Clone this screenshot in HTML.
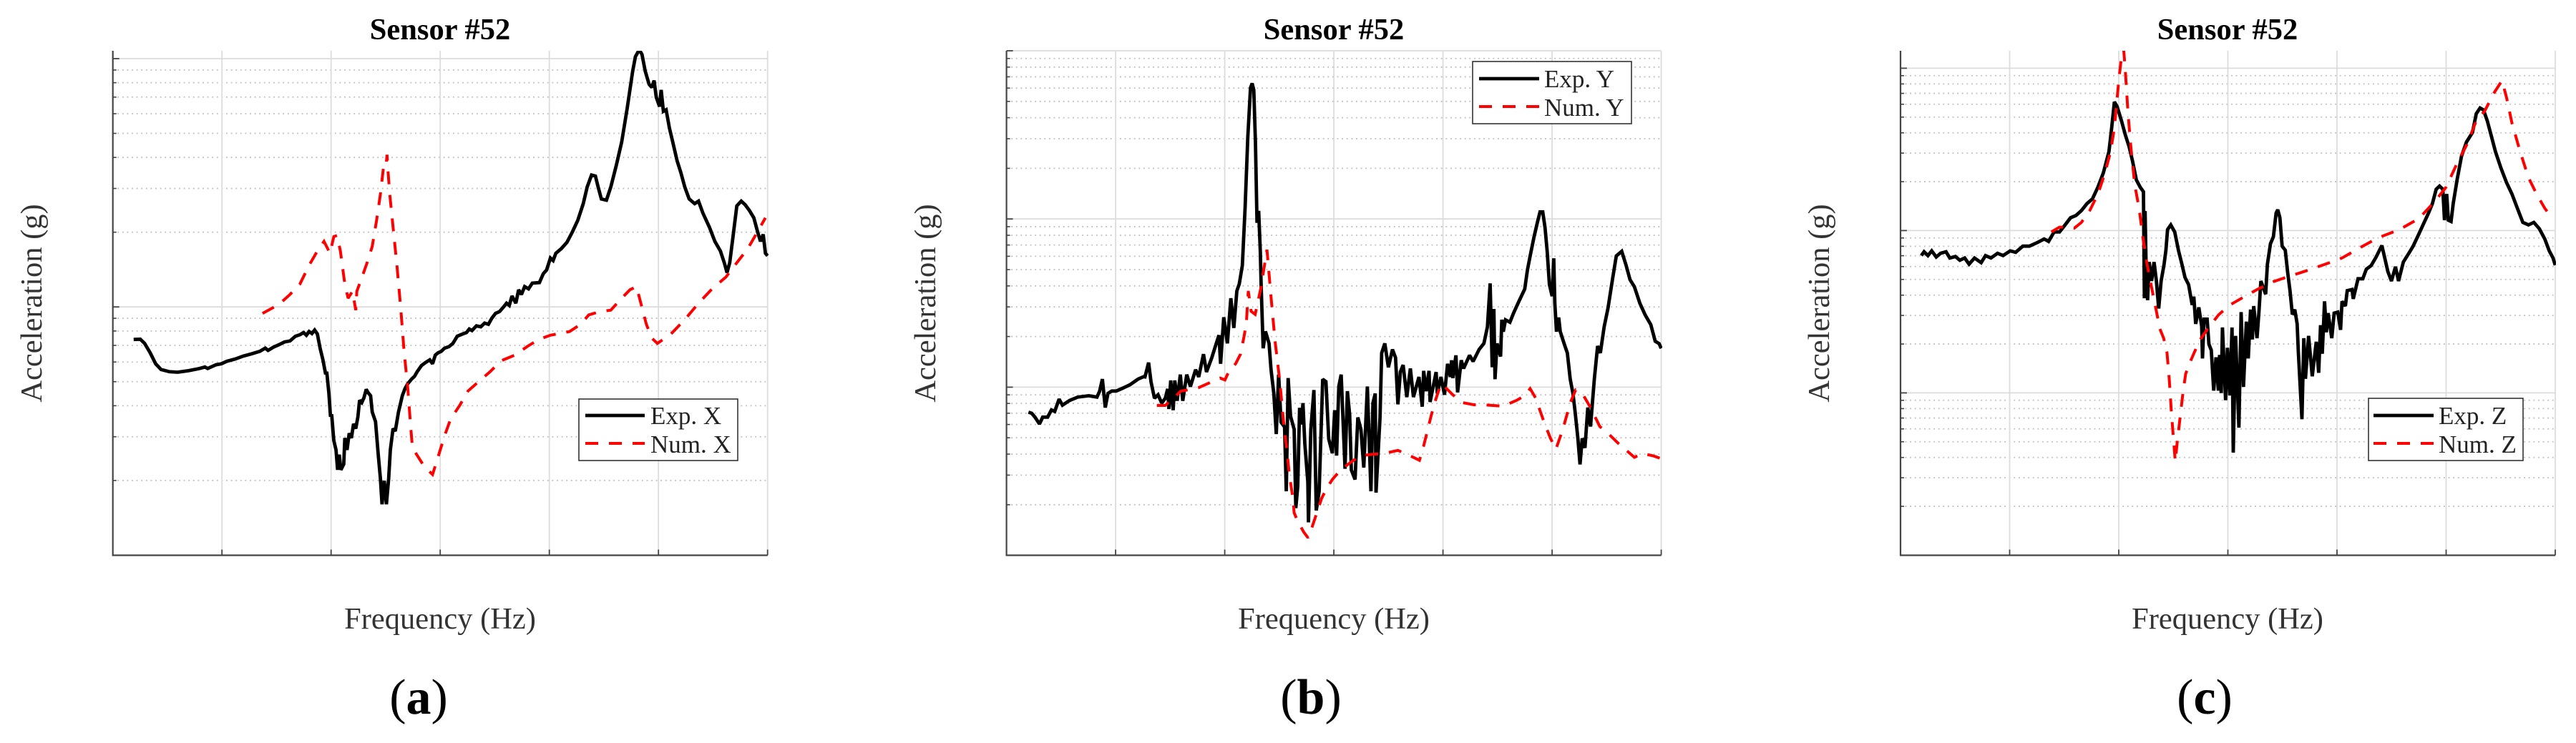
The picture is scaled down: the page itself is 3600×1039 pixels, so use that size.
<!DOCTYPE html>
<html lang="en">
<head>
<meta charset="utf-8">
<title>Sensor #52 frequency response</title>
<style>
html,body{margin:0;padding:0;background:#fff;}
svg{display:block;font-family:"Liberation Serif",serif;}
.title{font-size:42.5px;font-weight:bold;fill:#000;text-anchor:middle;}
.axis-label{font-size:42.5px;fill:#333;text-anchor:middle;}
.legend-text{font-size:35px;fill:#222;}
.caption{font-size:70px;fill:#000;text-anchor:middle;}
</style>
</head>
<body>
<svg id="figure" xmlns="http://www.w3.org/2000/svg" width="3600" height="1039" viewBox="0 0 3600 1039">
  <rect width="3600" height="1039" fill="#fff"/>
  <defs>
    <clipPath id="clip-a"><rect x="157" y="71" width="917" height="706"/></clipPath>
    <clipPath id="clip-b"><rect x="1406" y="71" width="917" height="706"/></clipPath>
    <clipPath id="clip-c"><rect x="2655" y="71" width="917" height="706"/></clipPath>
  </defs>
  <g id="panel-a"></g>
  <g id="panel-b"></g>
  <g id="panel-c"></g>

  <text class="title" x="615" y="55">Sensor #52</text>
  <text class="title" x="1864" y="55">Sensor #52</text>
  <text class="title" x="3113" y="55">Sensor #52</text>

  <text class="axis-label" x="615" y="879">Frequency (Hz)</text>
  <text class="axis-label" x="1864" y="879">Frequency (Hz)</text>
  <text class="axis-label" x="3113" y="879">Frequency (Hz)</text>

  <text class="axis-label" transform="translate(58 424) rotate(-90)">Acceleration (g)</text>
  <text class="axis-label" transform="translate(1307 424) rotate(-90)">Acceleration (g)</text>
  <text class="axis-label" transform="translate(2556 424) rotate(-90)">Acceleration (g)</text>

  <g>
    <rect x="809" y="558" width="222" height="86" fill="#fff" stroke="#333" stroke-width="1.6"/>
    <line x1="818" y1="581" x2="901" y2="581" stroke="#000" stroke-width="4.8"/>
    <line x1="818" y1="620" x2="901" y2="620" stroke="#f00" stroke-width="4" stroke-dasharray="18 15"/>
    <text class="legend-text" x="909" y="593">Exp. X</text>
    <text class="legend-text" x="909" y="633">Num. X</text>
  </g>
  <g>
    <rect x="2058" y="86" width="222" height="87" fill="#fff" stroke="#333" stroke-width="1.6"/>
    <line x1="2067" y1="110" x2="2151" y2="110" stroke="#000" stroke-width="4.8"/>
    <line x1="2067" y1="149" x2="2151" y2="149" stroke="#f00" stroke-width="4" stroke-dasharray="18 15"/>
    <text class="legend-text" x="2158" y="122">Exp. Y</text>
    <text class="legend-text" x="2158" y="162">Num. Y</text>
  </g>
  <g>
    <rect x="3310" y="557" width="216" height="87" fill="#fff" stroke="#333" stroke-width="1.6"/>
    <line x1="3317" y1="581" x2="3401" y2="581" stroke="#000" stroke-width="4.8"/>
    <line x1="3317" y1="620" x2="3401" y2="620" stroke="#f00" stroke-width="4" stroke-dasharray="18 15"/>
    <text class="legend-text" x="3408" y="593">Exp. Z</text>
    <text class="legend-text" x="3408" y="633">Num. Z</text>
  </g>

  <text class="caption" x="585" y="998">(<tspan font-weight="bold">a</tspan>)</text>
  <text class="caption" x="1832" y="998">(<tspan font-weight="bold">b</tspan>)</text>
  <text class="caption" x="3081" y="998">(<tspan font-weight="bold">c</tspan>)</text>
</svg>

<script>
// Frequency ticks (Hz) shared by all panels; values below are [frequency Hz, log10 acceleration g].
const freqTicks = [0,100,200,300,400,500,600];
const decadesX = [-2,-1,0];
const decadesYZ = [-3,-2,-1,0];
const minorMultipliers = [2,3,4,5,6,7,8,9];

const expX = [[19.1,-1.131],[25.1,-1.130],[29.1,-1.147],[34.2,-1.185],[39.2,-1.229],[44.2,-1.252],[51.8,-1.261],[59.3,-1.263],[69.3,-1.257],[79.4,-1.248],[84.4,-1.242],[86.9,-1.248],[94.5,-1.233],[99.5,-1.229],[104.5,-1.219],[112,-1.210],[119.6,-1.198],[127.1,-1.189],[134.7,-1.179],[139.7,-1.166],[142.2,-1.175],[147.2,-1.162],[152.3,-1.152],[157.3,-1.141],[162.3,-1.137],[167.3,-1.118],[171.4,-1.112],[174.9,-1.103],[177.4,-1.114],[179.9,-1.099],[182.4,-1.107],[184.9,-1.093],[187.4,-1.109],[189.9,-1.166],[192.5,-1.213],[195,-1.271],[196,-1.261],[198,-1.347],[199.5,-1.442],[200.5,-1.433],[202.5,-1.538],[204.5,-1.576],[206,-1.656],[207.5,-1.595],[209,-1.656],[211.6,-1.633],[212.6,-1.528],[214.6,-1.576],[216.6,-1.509],[218.6,-1.528],[220.6,-1.471],[222.6,-1.490],[224.6,-1.442],[226.1,-1.376],[228.1,-1.385],[230.1,-1.366],[232.2,-1.332],[234.2,-1.347],[236.2,-1.357],[237.7,-1.423],[240.7,-1.462],[243.2,-1.595],[245.2,-1.690],[246.7,-1.795],[248.7,-1.700],[250.7,-1.795],[252.8,-1.690],[254.3,-1.576],[256.8,-1.490],[258.8,-1.500],[261.8,-1.423],[265.3,-1.357],[267.8,-1.328],[270.3,-1.309],[273.9,-1.290],[276.4,-1.280],[278.9,-1.261],[282.9,-1.236],[286.9,-1.223],[290.4,-1.213],[293,-1.229],[295.5,-1.194],[298,-1.185],[301,-1.179],[304,-1.166],[308,-1.160],[311.6,-1.147],[315.6,-1.118],[320.6,-1.109],[324.1,-1.103],[326.6,-1.089],[329.1,-1.095],[333.2,-1.076],[337.2,-1.080],[340.7,-1.065],[344.2,-1.070],[347.2,-1.046],[350.7,-1.026],[354.3,-1.019],[357.3,-1.004],[360.8,-.985],[363.3,-.994],[365.8,-.956],[369.3,-.985],[371.9,-.931],[374.4,-.950],[377.4,-.918],[380.9,-.927],[384.4,-.904],[390.9,-.902],[394.5,-.866],[397.5,-.851],[401,-.803],[403.5,-.813],[406,-.784],[411,-.765],[416.1,-.740],[421.1,-.698],[426.1,-.651],[431.1,-.584],[434.7,-.517],[438.7,-.469],[442.2,-.473],[444.7,-.517],[447.7,-.565],[452.3,-.570],[456.3,-.517],[461.3,-.431],[466.3,-.336],[471.3,-.202],[476.4,-.050],[478.9,.008],[482.4,.036],[484.9,.017],[487.9,-.050],[491.4,-.103],[494,-.116],[496,-.088],[498,-.155],[501,-.193],[502.5,-.126],[504.5,-.212],[507,-.206],[510,-.279],[513.1,-.336],[517.1,-.412],[520.6,-.460],[524.1,-.517],[528.1,-.565],[533.2,-.584],[536.7,-.574],[540.7,-.622],[546.7,-.679],[551.7,-.736],[556.8,-.775],[560.3,-.822],[562.8,-.862],[565.3,-.822],[568.3,-.717],[571.8,-.593],[575.9,-.574],[579.4,-.588],[583.4,-.612],[587.4,-.641],[590.9,-.698],[593.5,-.736],[596,-.708],[598,-.784],[600,-.794]];

const numX = [[137.2,-1.026],[152.3,-.990],[162.3,-.950],[171.4,-.908],[179.9,-.832],[187.4,-.775],[193.5,-.736],[199,-.784],[202.5,-.717],[205.5,-.712],[208.5,-.775],[212.6,-.908],[215.6,-.965],[219.6,-.937],[222.6,-1.013],[223.6,-.937],[227.6,-.889],[233.7,-.813],[237.7,-.756],[241.7,-.651],[245.2,-.546],[248.2,-.431],[250.2,-.435],[251.3,-.387],[251.8,-.431],[253.8,-.546],[256.8,-.679],[260.3,-.832],[263.8,-1.004],[266.8,-1.175],[270.3,-1.328],[272.9,-1.481],[274.4,-1.561],[277.9,-1.591],[285.4,-1.643],[293,-1.675],[298,-1.605],[304,-1.519],[309.5,-1.452],[318.1,-1.395],[325.6,-1.338],[335.7,-1.299],[345.7,-1.261],[355.8,-1.217],[368.3,-1.194],[380.9,-1.156],[390.9,-1.130],[401,-1.114],[418.6,-1.099],[428.6,-1.070],[436.2,-1.032],[446.2,-1.019],[456.3,-1.013],[466.3,-.965],[473.9,-.931],[479.9,-.918],[483.9,-.985],[488.9,-1.070],[494,-1.126],[499,-1.147],[511.5,-1.109],[524.1,-1.051],[536.7,-.985],[549.2,-.927],[561.8,-.880],[571.8,-.822],[581.9,-.765],[589.4,-.708],[598,-.641]];

const expY = [[20.1,-2.149],[23.1,-2.155],[26.1,-2.178],[30.2,-2.219],[33.2,-2.178],[37.7,-2.178],[41.2,-2.135],[44.2,-2.144],[48.2,-2.071],[51.3,-2.107],[57.8,-2.079],[65.3,-2.059],[75.4,-2.051],[82.9,-2.059],[85.4,-2.023],[87.9,-1.952],[90.5,-2.121],[93,-2.037],[96.5,-2.023],[100.5,-2.023],[105.5,-2.009],[113.1,-1.986],[120.6,-1.952],[125.6,-1.938],[126.9,-1.939],[130.2,-1.854],[132.4,-1.967],[135.6,-2.066],[138.9,-2.045],[142.2,-2.095],[145.5,-2.066],[147.7,-2.010],[148.8,-2.130],[150.5,-1.960],[152.7,-2.137],[154.2,-1.960],[156.4,-2.081],[159.3,-1.925],[161.5,-2.081],[165.2,-1.925],[168.5,-1.996],[173.3,-1.896],[176.1,-1.939],[180.5,-1.804],[183.3,-1.910],[188.1,-1.825],[190.8,-1.769],[194.7,-1.691],[196.2,-1.861],[199.1,-1.584],[202.4,-1.740],[205.6,-1.471],[208.3,-1.648],[211.1,-1.428],[213.3,-1.386],[216.1,-1.276],[218.6,-.938],[221.1,-.516],[223.6,-.220],[225.1,-.194],[226.6,-.234],[228.1,-.544],[229.6,-1.023],[231.1,-.952],[232.6,-1.192],[233.4,-1.400],[235.2,-1.769],[237.3,-1.669],[240.6,-1.740],[242.4,-1.896],[245,-2.038],[247.2,-2.279],[249.4,-1.925],[251.6,-2.208],[254.8,-2.237],[256.4,-2.619],[258.1,-1.946],[260.3,-2.173],[263.6,-2.251],[265.1,-2.719],[266.9,-2.591],[268.6,-2.123],[270.2,-2.222],[271.7,-2.095],[273.4,-2.336],[276.1,-2.563],[276.7,-2.804],[278.9,-2.251],[281.7,-2.017],[283.9,-2.733],[286.5,-2.619],[288.3,-2.251],[289.8,-1.953],[292.7,-1.967],[295.3,-2.308],[298.6,-2.393],[300.8,-2.137],[302.5,-2.407],[304.5,-1.996],[306.7,-1.925],[310.2,-2.485],[312.4,-2.024],[314.5,-2.166],[316,-2.492],[319.4,-2.549],[322,-2.180],[324.8,-2.251],[327.4,-2.478],[330.7,-1.996],[334,-2.619],[335.8,-2.095],[337.9,-2.038],[338.6,-2.627],[342.3,-2.180],[343.8,-1.797],[346.7,-1.740],[350,-1.882],[353.7,-1.776],[356.5,-1.825],[358.7,-2.102],[360.9,-1.910],[363.5,-1.868],[366.8,-2.059],[370.1,-1.889],[372.9,-2.059],[378,-1.939],[381,-2.116],[382.3,-1.903],[384.5,-2.024],[387.2,-1.903],[388.2,-2.088],[393.7,-1.910],[394.8,-2.038],[398.1,-1.939],[401.4,-2.045],[404.2,-1.861],[406.8,-1.939],[407.9,-1.840],[409,-1.946],[411.9,-1.811],[413.4,-2.031],[416.7,-1.840],[418.9,-1.889],[424.3,-1.811],[427.6,-1.847],[433.1,-1.776],[437.5,-1.740],[440.7,-1.641],[443.2,-1.383],[445.1,-1.882],[446.6,-1.535],[447.7,-1.953],[449.5,-1.740],[452.8,-1.818],[453.9,-1.599],[455.3,-1.670],[457.3,-1.600],[461.3,-1.614],[464.8,-1.558],[469.8,-1.487],[474.9,-1.417],[477.4,-1.304],[479.9,-1.220],[483.4,-1.107],[486.4,-1.023],[488.9,-.958],[491.4,-.958],[493.5,-1.051],[495.5,-1.192],[497.5,-1.389],[500,-1.459],[501.5,-1.234],[502.5,-1.501],[504,-1.670],[506,-1.586],[507.5,-1.670],[511,-1.741],[514,-1.797],[516.6,-1.952],[519.1,-2.037],[521.1,-2.149],[523.6,-2.304],[525.6,-2.459],[527.6,-2.304],[530.1,-2.361],[532.7,-2.121],[535.2,-2.234],[538.7,-1.952],[541.7,-1.755],[544.2,-1.797],[547.7,-1.642],[551.2,-1.530],[555.3,-1.361],[558.8,-1.220],[563.8,-1.192],[567.8,-1.276],[571.4,-1.361],[575.4,-1.403],[580.4,-1.501],[585.4,-1.572],[590.4,-1.628],[594.5,-1.727],[598,-1.741],[600,-1.769]];

const numY = [[137.8,-2.109],[145.5,-2.109],[148.8,-2.088],[155.3,-2.052],[159.7,-2.024],[165.2,-2.017],[176.1,-2.003],[186,-1.974],[195.8,-1.946],[200.2,-1.957],[204.5,-1.896],[210,-1.861],[214.4,-1.804],[217.7,-1.698],[219.8,-1.620],[221.6,-1.428],[224.2,-1.549],[227.9,-1.567],[229.7,-1.513],[233,-1.414],[238.7,-1.183],[242.2,-1.450],[246.1,-1.726],[250.5,-1.967],[253.7,-2.194],[257,-2.378],[259.2,-2.520],[262.5,-2.662],[263.6,-2.747],[266.9,-2.797],[272.3,-2.861],[276.3,-2.896],[280,-2.832],[284.4,-2.747],[288.7,-2.662],[293.1,-2.605],[298.6,-2.549],[306.2,-2.492],[315,-2.449],[323.7,-2.410],[333.6,-2.400],[345.6,-2.395],[358.7,-2.376],[367.5,-2.400],[378.4,-2.435],[381.7,-2.364],[385,-2.279],[389.3,-2.166],[393.7,-2.066],[398.1,-1.981],[401.4,-1.996],[409,-2.045],[417.8,-2.092],[428.7,-2.105],[439.6,-2.106],[455,-2.113],[467.3,-2.079],[474.9,-2.051],[479.9,-2.009],[484.9,-2.065],[492.5,-2.206],[498.5,-2.304],[503.5,-2.369],[510,-2.248],[516.6,-2.093],[521.6,-2.017],[527.6,-2.037],[535.2,-2.121],[543.7,-2.234],[550.2,-2.268],[560.3,-2.332],[575.4,-2.417],[582.9,-2.394],[592.9,-2.409],[600,-2.425]];

const expZ = [[19.1,-1.154],[21.6,-1.131],[25.1,-1.154],[28.6,-1.125],[32.7,-1.163],[36.7,-1.140],[41.7,-1.131],[45.2,-1.169],[50.3,-1.160],[54.3,-1.183],[58.8,-1.169],[62.8,-1.207],[67.8,-1.169],[73.9,-1.198],[77.9,-1.154],[82.9,-1.169],[88.9,-1.140],[94,-1.154],[100.5,-1.125],[105.5,-1.134],[112.1,-1.096],[118.1,-1.096],[125.6,-1.073],[131.7,-1.052],[135.7,-1.067],[140.7,-1.009],[145.7,-1.009],[150.8,-.965],[155.8,-.921],[160.8,-.907],[165.8,-.877],[170.9,-.834],[175.9,-.805],[180.9,-.732],[185.9,-.644],[191,-.513],[193.5,-.367],[196,-.207],[198.5,-.236],[202.5,-.324],[206,-.411],[209.5,-.484],[212.6,-.571],[216.1,-.688],[219.6,-.732],[222.6,-.761],[223.5,-1.417],[224.1,-.880],[225,-1.194],[226.4,-1.429],[227.9,-1.194],[230.1,-1.311],[232.3,-1.194],[234.5,-1.311],[236.6,-1.480],[238.8,-1.311],[241.5,-1.209],[243.2,-1.121],[244.7,-.994],[247.7,-.965],[251.3,-1.009],[254.8,-1.125],[257.4,-1.194],[260.7,-1.289],[264,-1.333],[267.3,-1.458],[268.8,-1.407],[270.5,-1.575],[273.4,-1.473],[276,-1.590],[276.7,-1.788],[278.2,-1.546],[281,-1.546],[282.6,-1.700],[284.8,-1.737],[287,-1.986],[289.1,-1.781],[291.3,-1.986],[292.4,-1.766],[293.9,-2.001],[295,-1.597],[297.9,-2.045],[299.6,-1.722],[301.8,-2.016],[303.8,-1.597],[304.9,-2.368],[307.1,-1.649],[310.1,-2.214],[312.1,-1.502],[314.3,-1.964],[316.9,-1.561],[318.7,-1.788],[320.8,-1.487],[322.4,-1.671],[323.7,-1.465],[326.7,-1.663],[328.5,-1.495],[330.2,-1.311],[334.6,-1.392],[336.2,-1.209],[339,-1.081],[341.7,-1.038],[344.2,-.892],[345.7,-.872],[347.7,-.921],[349.7,-1.096],[352.6,-1.121],[354.7,-1.253],[356.9,-1.370],[359.1,-1.517],[361.3,-1.487],[363.5,-1.575],[364.6,-1.751],[367.9,-2.162],[369.6,-1.663],[371.1,-1.913],[374,-1.649],[377.3,-1.898],[381,-1.685],[383.2,-1.876],[384.9,-1.583],[386.5,-1.759],[388.6,-1.436],[390.2,-1.627],[391.9,-1.509],[395.2,-1.663],[397.4,-1.509],[400.7,-1.502],[403.3,-1.612],[404.6,-1.436],[407.7,-1.465],[409.4,-1.370],[413.8,-1.363],[414.9,-1.421],[419.3,-1.297],[423.6,-1.297],[426.9,-1.238],[431.3,-1.216],[435.7,-1.165],[441.1,-1.092],[446.6,-1.253],[449.9,-1.311],[453.6,-1.223],[456.4,-1.311],[460.8,-1.194],[466.3,-1.135],[469.8,-1.096],[474.9,-1.023],[479.9,-.950],[483.9,-.892],[487.4,-.834],[490.9,-.746],[494,-.726],[497,-.746],[498.5,-.936],[500.5,-.775],[502,-.936],[504.5,-.944],[506.5,-.834],[510,-.688],[514.1,-.542],[518.6,-.455],[524.1,-.396],[527.6,-.280],[531.1,-.245],[534.2,-.257],[537.7,-.324],[541.2,-.411],[545.2,-.513],[550.2,-.615],[555.3,-.703],[560.3,-.775],[565.3,-.863],[570.3,-.950],[575.4,-.965],[580.4,-.950],[585.4,-.988],[590.4,-1.052],[594.5,-1.125],[598,-1.169],[600,-1.213]];

const numZ = [[138.2,-1.009],[145.7,-.979],[153.3,-.979],[159.3,-.985],[165.8,-.950],[173.4,-.877],[180.9,-.775],[187.4,-.644],[192.5,-.513],[196,-.367],[200,-.076],[202.5,.070],[204.5,.114],[206,-.017],[208.5,-.280],[211.1,-.484],[214.6,-.717],[218.6,-.863],[222.6,-1.067],[226.1,-1.213],[231.2,-1.388],[234.7,-1.504],[237.7,-1.606],[241.2,-1.664],[244.2,-1.752],[246.2,-1.912],[248.2,-2.116],[250.2,-2.291],[251.8,-2.422],[253.8,-2.291],[256.3,-2.145],[258.8,-2.000],[261.3,-1.883],[266.3,-1.796],[273.9,-1.679],[281.4,-1.606],[291.5,-1.519],[301.5,-1.460],[314.1,-1.411],[326.6,-1.364],[341.7,-1.315],[354.3,-1.286],[371.9,-1.248],[389.4,-1.207],[404.5,-1.169],[419.6,-1.111],[437.2,-1.046],[457.3,-.994],[474.9,-.927],[489.9,-.819],[500,-.732],[510,-.586],[519.1,-.469],[527.6,-.324],[535.2,-.265],[544.2,-.149],[551.2,-.076],[555.3,-.178],[560.3,-.338],[567.8,-.513],[575.4,-.673],[582.9,-.775],[590.4,-.863],[596.9,-.921]];

const SVGNS = 'http://www.w3.org/2000/svg';

function makeLine(parent, x1, y1, x2, y2, stroke, width, dash) {
  const el = document.createElementNS(SVGNS, 'line');
  el.setAttribute('x1', x1);
  el.setAttribute('y1', y1);
  el.setAttribute('x2', x2);
  el.setAttribute('y2', y2);
  el.setAttribute('stroke', stroke);
  el.setAttribute('stroke-width', width);
  if (dash) el.setAttribute('stroke-dasharray', dash);
  parent.appendChild(el);
  return el;
}

function drawPanel(panelId, clipId, left, yZero, decadePx, decades, expSeries, numSeries) {
  const g = document.getElementById(panelId);
  const plotWidth = 915, plotTop = 71, plotBottom = 776.5;
  const xScale = function (hz) { return left + (hz - freqTicks[0]) / (freqTicks[freqTicks.length - 1] - freqTicks[0]) * plotWidth; };
  const yScale = function (logG) { return yZero - logG * decadePx; };
  const right = xScale(freqTicks[freqTicks.length - 1]);

  decades.forEach(function (d) {
    minorMultipliers.forEach(function (m) {
      const v = d + Math.log10(m);
      const y = yScale(v);
      if (y < plotTop) return;
      const grid = makeLine(g, left, y, right, y, '#bdbdbd', 1.8, '1.8 4.8');
      
      
      const tick = makeLine(g, left, y, left + 5, y, '#444', 1.6);
      
      
    });
    const y = yScale(d);
    if (y < plotTop - 1) return;
    const major = makeLine(g, left, y, right, y, '#dcdcdc', 1.8);
    
    
    const majorTick = makeLine(g, left, y, left + 9, y, '#444', 1.8);
    
    
  });

  freqTicks.forEach(function (hz) {
    const x = xScale(hz);
    if (hz !== freqTicks[0]) {
      const vGrid = makeLine(g, x, plotTop, x, plotBottom, '#dcdcdc', 1.8);
      
      
      const xTick = makeLine(g, x, plotBottom, x, plotBottom - 8, '#444', 1.8);
      
      
    }
  });

  const yAxis = makeLine(g, left, plotTop, left, plotBottom + 1, '#444', 2.2);
  
  
  const xAxis = makeLine(g, left - 1, plotBottom, right, plotBottom, '#444', 2.2);
  
  

  function pathFor(series) {
    return series.map(function (p, i) {
      return (i ? 'L' : 'M') + xScale(p[0]).toFixed(1) + ' ' + yScale(p[1]).toFixed(1);
    }).join('');
  }

  const exp = document.createElementNS(SVGNS, 'path');
  exp.setAttribute('d', pathFor(expSeries));
  exp.setAttribute('fill', 'none');
  exp.setAttribute('stroke', '#000');
  exp.setAttribute('stroke-width', '4.8');
  exp.setAttribute('stroke-linejoin', 'miter');
  exp.setAttribute('stroke-miterlimit', '2');
  exp.setAttribute('clip-path', 'url(#' + clipId + ')');
  
  
  g.appendChild(exp);

  const num = document.createElementNS(SVGNS, 'path');
  num.setAttribute('d', pathFor(numSeries));
  num.setAttribute('fill', 'none');
  num.setAttribute('stroke', '#f00');
  num.setAttribute('stroke-width', '4');
  num.setAttribute('stroke-dasharray', '18 15');
  num.setAttribute('stroke-linejoin', 'miter');
  num.setAttribute('stroke-miterlimit', '2');
  num.setAttribute('clip-path', 'url(#' + clipId + ')');
  
  
  g.appendChild(num);
}

drawPanel('panel-a', 'clip-a', 157.7, 82, 347.2, decadesX, expX, numX);
drawPanel('panel-b', 'clip-b', 1406.6, 71, 235.2, decadesYZ, expY, numY);
drawPanel('panel-c', 'clip-c', 2656, 95.4, 227, decadesYZ, expZ, numZ);
</script>
</body>
</html>
